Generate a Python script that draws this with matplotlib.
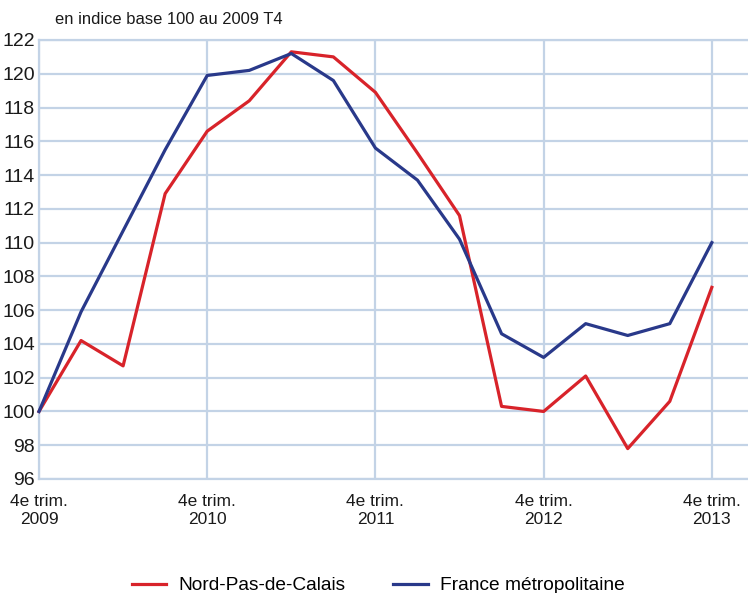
import matplotlib
matplotlib.use("Agg")
import matplotlib.pyplot as plt

plt.rcParams['font.family'] = ['Liberation Sans', 'DejaVu Sans']

quarters = list(range(17))
nord_pas_de_calais = [100.0, 104.2, 102.7, 112.9, 116.6, 118.4, 121.3, 121.0, 118.9,
                      115.3, 111.6, 100.3, 100.0, 102.1, 97.8, 100.6, 107.35]
france_metro = [100.0, 105.9, 110.7, 115.5, 119.9, 120.2, 121.2, 119.6, 115.6,
                113.7, 110.2, 104.6, 103.2, 105.2, 104.5, 105.2, 110.0]
tick_pos = [0, 4, 8, 12, 16]
tick_labels = ["4e trim.\n2009", "4e trim.\n2010", "4e trim.\n2011", "4e trim.\n2012", "4e trim.\n2013"]
y_ticks = list(range(96, 123, 2))

grid_c = '#c3d3e6'
red = '#d8232a'
blue = '#29398a'
txt = '#1a1a1a'

fig = plt.figure(figsize=(7.48, 5.93), dpi=100)
ax = fig.add_axes([39/748, 1-479/593, 1-39/748, (479-40)/593])

ax.plot(quarters, nord_pas_de_calais, color=red, lw=2.3, label='Nord-Pas-de-Calais', zorder=3, clip_on=False)
ax.plot(quarters, france_metro, color=blue, lw=2.3, label='France métropolitaine', zorder=4, clip_on=False)

ax.set_xlim(0, 16.86)
ax.set_ylim(96, 122)
ax.set_yticks(y_ticks)
ax.set_xticks(tick_pos)
ax.set_xticklabels(tick_labels, fontsize=12.5, color=txt, linespacing=1.25)
ax.tick_params(axis='y', labelsize=14, length=0, pad=3, labelcolor=txt)
ax.tick_params(axis='x', length=0, pad=11)
ax.grid(True, color=grid_c, lw=1.6, zorder=0)
ax.set_axisbelow(True)
for s in ['left', 'bottom', 'top']:
    ax.spines[s].set_color(grid_c)
    ax.spines[s].set_linewidth(1.6)
ax.spines['right'].set_visible(False)

fig.text(55/748, 1-20/593, 'en indice base 100 au 2009 T4', fontsize=11.9, va='center', ha='left', color=txt)

fig.legend(loc='center', bbox_to_anchor=(0.5055, 0.0125), ncol=2, frameon=False,
           fontsize=13.8, handlelength=1.8, handletextpad=0.62, columnspacing=2.5, borderpad=0)

fig.savefig('out.png', dpi=100)
